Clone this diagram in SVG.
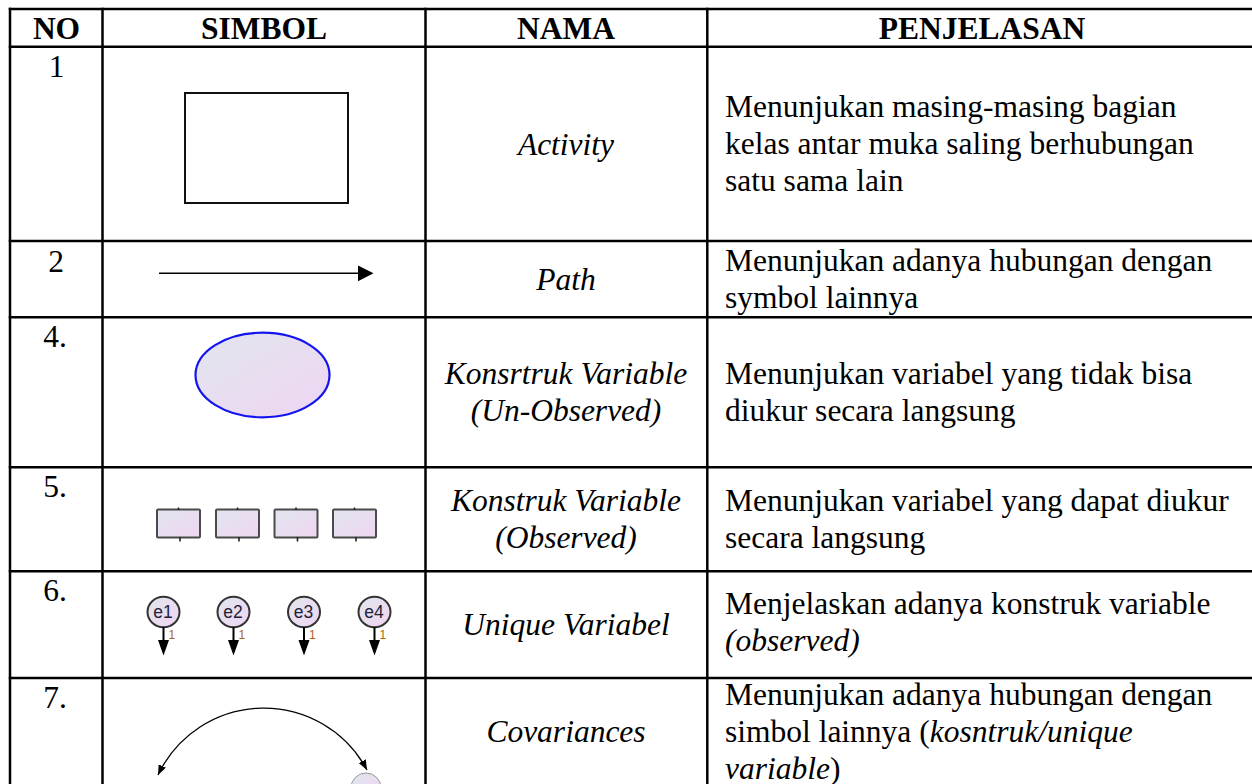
<svg xmlns="http://www.w3.org/2000/svg" width="1252" height="784" viewBox="0 0 1252 784">
<style>
.grid{stroke:#000;stroke-width:2.5;fill:none}
.h{font-family:"Liberation Serif","Times New Roman",serif;font-size:31.5px;font-weight:bold;fill:#000;text-anchor:middle}
.t{font-family:"Liberation Serif","Times New Roman",serif;font-size:31.5px;fill:#000}
.n{text-anchor:middle}
.i{font-style:italic}
.c{text-anchor:middle;font-style:italic}
.lav{fill:url(#lavg)}
.obs{fill:url(#lavg);stroke:#4a4a4a;stroke-width:2}
.err{fill:url(#lavg);stroke:#333;stroke-width:2}
.el{font-family:"Liberation Sans",Arial,sans-serif;font-size:17.5px;fill:#1f1f38;text-anchor:middle}
.one{font-family:"Liberation Sans",Arial,sans-serif;font-size:12px;fill:#b0600f}
.stem{stroke:#000;stroke-width:2}
</style>
<defs>
<linearGradient id="lavg" x1="0" y1="0" x2="1" y2="1">
<stop offset="0" stop-color="#e1e6ee"/>
<stop offset="1" stop-color="#efd5f2"/>
</linearGradient>
<marker id="cov" viewBox="0 0 10 8" refX="10" refY="4" markerWidth="10" markerHeight="8" markerUnits="userSpaceOnUse" orient="auto-start-reverse">
<path d="M0,0 L10,4 L0,8 Z" fill="#000"/>
</marker>
</defs>
<rect width="1252" height="784" fill="#fff"/>

<g id="table" class="grid">
<line x1="8.75" y1="9" x2="1252" y2="9"/>
<line x1="8.75" y1="46.8" x2="1252" y2="46.8"/>
<line x1="8.75" y1="241" x2="1252" y2="241"/>
<line x1="8.75" y1="317.3" x2="1252" y2="317.3"/>
<line x1="8.75" y1="467.3" x2="1252" y2="467.3"/>
<line x1="8.75" y1="571.3" x2="1252" y2="571.3"/>
<line x1="8.75" y1="678" x2="1252" y2="678"/>
<line x1="10" y1="7.75" x2="10" y2="784"/>
<line x1="102.5" y1="7.75" x2="102.5" y2="784"/>
<line x1="425.5" y1="7.75" x2="425.5" y2="784"/>
<line x1="707.3" y1="7.75" x2="707.3" y2="784"/>
</g>

<g id="header">
<text class="h" x="56.5" y="39.3">NO</text>
<text class="h" x="264" y="39.3">SIMBOL</text>
<text class="h" x="566" y="39.3">NAMA</text>
<text class="h" x="982" y="39.3">PENJELASAN</text>
</g>

<g id="row1">
<text class="t n" x="56.5" y="77">1</text>
<rect id="activity" x="185" y="93" width="163" height="110" fill="#fff" stroke="#111" stroke-width="2"/>
<text class="t c" x="566" y="155">Activity</text>
<text class="t" x="725" y="117">Menunjukan masing-masing bagian</text>
<text class="t" x="725" y="154">kelas antar muka saling berhubungan</text>
<text class="t" x="725" y="191">satu sama lain</text>
</g>

<g id="row2">
<text class="t n" x="56" y="271.5">2</text>
<text class="t c" x="566" y="290">Path</text>
<text class="t" x="725" y="271">Menunjukan adanya hubungan dengan</text>
<text class="t" x="725" y="308">symbol lainnya</text>
</g>

<g id="row4">
<text class="t n" x="55" y="347">4.</text>
<ellipse id="construct" cx="262.5" cy="375" rx="67" ry="42.3" class="lav" stroke="#1414ee" stroke-width="2.2"/>
<text class="t c" x="566" y="384">Konsrtruk Variable</text>
<text class="t c" x="566" y="421">(Un-Observed)</text>
<text class="t" x="725" y="384">Menunjukan variabel yang tidak bisa</text>
<text class="t" x="725" y="421">diukur secara langsung</text>
</g>

<g id="row5">
<text class="t n" x="55" y="497">5.</text>
<g id="observed">
<rect x="157" y="509.5" width="43" height="28" rx="1" class="obs"/>
<rect x="216" y="509.5" width="43" height="28" rx="1" class="obs"/>
<rect x="274.5" y="509.5" width="43" height="28" rx="1" class="obs"/>
<rect x="333" y="509.5" width="43" height="28" rx="1" class="obs"/>
<g stroke="#222" stroke-width="1.6">
<line x1="178.5" y1="507.5" x2="178.5" y2="510"/><line x1="180" y1="537" x2="180" y2="541.5"/>
<line x1="237.5" y1="507.5" x2="237.5" y2="510"/><line x1="239" y1="537" x2="239" y2="541.5"/>
<line x1="296" y1="507.5" x2="296" y2="510"/><line x1="297.5" y1="537" x2="297.5" y2="541.5"/>
<line x1="354.5" y1="507.5" x2="354.5" y2="510"/><line x1="356" y1="537" x2="356" y2="541.5"/>
</g>
</g>
<text class="t c" x="566" y="511">Konstruk Variable</text>
<text class="t c" x="566" y="548">(Observed)</text>
<text class="t" x="725" y="511">Menunjukan variabel yang dapat diukur</text>
<text class="t" x="725" y="548">secara langsung</text>
</g>

<g id="row6">
<text class="t n" x="55" y="601">6.</text>
<g id="e1"><ellipse cx="163.5" cy="612" rx="16" ry="15.3" class="err"/><text class="el" x="163" y="618">e1</text><text class="one" x="168.5" y="638.5">1</text></g>
<g id="e2"><ellipse cx="233.5" cy="612" rx="16" ry="15.3" class="err"/><text class="el" x="233" y="618">e2</text><text class="one" x="238.5" y="638.5">1</text></g>
<g id="e3"><ellipse cx="304" cy="612" rx="16" ry="15.3" class="err"/><text class="el" x="303.5" y="618">e3</text><text class="one" x="309" y="638.5">1</text></g>
<g id="e4"><ellipse cx="374.5" cy="612" rx="16" ry="15.3" class="err"/><text class="el" x="374" y="618">e4</text><text class="one" x="379.5" y="638.5">1</text></g>
<text class="t c" x="566" y="635">Unique Variabel</text>
<text class="t" x="725" y="614">Menjelaskan adanya konstruk variable</text>
<text class="t i" x="725" y="651">(observed)</text>
</g>

<g id="row7">
<text class="t n" x="55" y="708">7.</text>
<circle id="cov-target" cx="366" cy="788" r="15" class="lav" stroke="#999" stroke-width="1"/>
<text class="t c" x="566" y="742">Covariances</text>
<text class="t" x="725" y="705">Menunjukan adanya hubungan dengan</text>
<text class="t" x="725" y="742">simbol lainnya (<tspan class="i">kosntruk/unique</tspan></text>
<text class="t" x="725" y="779"><tspan class="i">variable</tspan>)</text>
</g>

<g id="connectors">
<line x1="159" y1="273.3" x2="359" y2="273.3" stroke="#000" stroke-width="1.4"/>
<polygon points="358,265.5 373.5,273.3 358,281.2" fill="#000"/>
<g class="stem">
<line x1="163.5" y1="627" x2="163.5" y2="641"/>
<line x1="233.5" y1="627" x2="233.5" y2="641"/>
<line x1="304" y1="627" x2="304" y2="641"/>
<line x1="374.5" y1="627" x2="374.5" y2="641"/>
</g>
<g fill="#000">
<polygon points="158,640 169,640 163.5,655.5"/>
<polygon points="228,640 239,640 233.5,655.5"/>
<polygon points="298.5,640 309.5,640 304,655.5"/>
<polygon points="369,640 380,640 374.5,655.5"/>
</g>
<path d="M158,775 A117,117 0 0 1 367,770" fill="none" stroke="#000" stroke-width="1.3" marker-start="url(#cov)" marker-end="url(#cov)"/>
</g>
</svg>
